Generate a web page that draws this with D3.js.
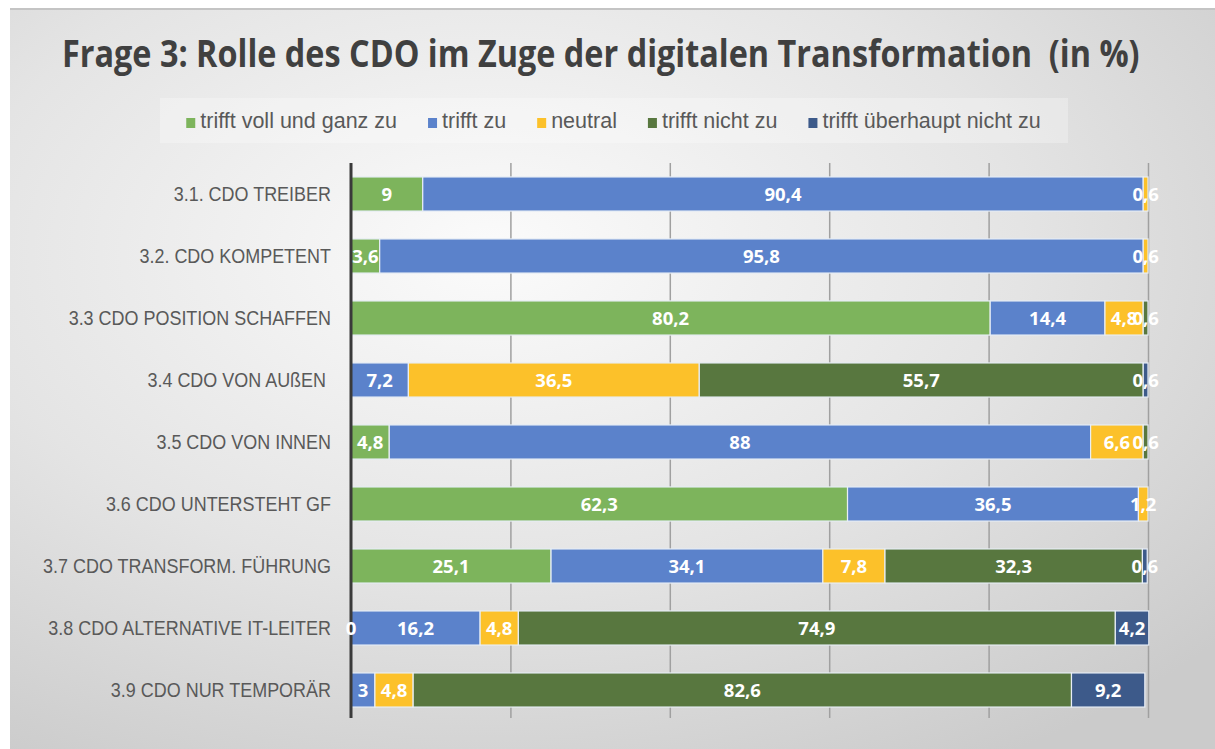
<!DOCTYPE html>
<html>
<head>
<meta charset="utf-8">
<script src="https://cdn.jsdelivr.net/npm/d3@7"></script>
<style>
  html, body { margin: 0; padding: 0; background: #ffffff; }
  svg { display: block; }
</style>
</head>
<body>
<svg id="chart" width="1215" height="749"></svg>
<script>
// ---------- DATA ----------
const titleText = "Frage 3: Rolle des CDO im Zuge der digitalen Transformation  (in %)";
const categories = [
  "3.1. CDO TREIBER",
  "3.2. CDO KOMPETENT",
  "3.3 CDO POSITION SCHAFFEN",
  "3.4 CDO VON AUßEN ",
  "3.5 CDO VON INNEN",
  "3.6 CDO UNTERSTEHT GF",
  "3.7 CDO TRANSFORM. FÜHRUNG",
  "3.8 CDO ALTERNATIVE IT-LEITER",
  "3.9 CDO NUR TEMPORÄR"
];
const seriesNames = ["trifft voll und ganz zu", "trifft zu", "neutral", "trifft nicht zu", "trifft überhaupt nicht zu"];
const trifftVollUndGanzZu = [9, 3.6, 80.2, null, 4.8, 62.3, 25.1, 0, null];
const trifftZu            = [90.4, 95.8, 14.4, 7.2, 88, 36.5, 34.1, 16.2, 3];
const neutral             = [0.6, 0.6, 4.8, 36.5, 6.6, 1.2, 7.8, 4.8, 4.8];
const trifftNichtZu       = [null, null, 0.6, 55.7, 0.6, null, 32.3, 74.9, 82.6];
const trifftUeberhauptNichtZu = [null, null, null, 0.6, null, null, 0.6, 4.2, 9.2];
const gridTicks = [20, 40, 60, 80, 100];
const seriesColors = ["#7db45c", "#5b82cb", "#fcc12a", "#58773f", "#3d5a8a"];

const seriesValues = [trifftVollUndGanzZu, trifftZu, neutral, trifftNichtZu, trifftUeberhauptNichtZu];
const rows = categories.map((c, i) => {
  const r = { cat: c };
  seriesNames.forEach((s, k) => { r[s] = seriesValues[k][i]; });
  return r;
});

// ---------- SETUP ----------
const svg = d3.select("#chart");
const W = 1215, H = 749;
const defs = svg.append("defs");
const grad = defs.append("radialGradient").attr("id", "bg")
  .attr("cx", "40%").attr("cy", "33%").attr("r", "80%");
grad.append("stop").attr("offset", "0%").attr("stop-color", "#fbfbfb");
grad.append("stop").attr("offset", "55%").attr("stop-color", "#e4e4e4");
grad.append("stop").attr("offset", "100%").attr("stop-color", "#cbcbcb");

svg.append("rect").attr("x", 0).attr("y", 0).attr("width", W).attr("height", H).attr("fill", "#ffffff");
svg.append("rect").attr("x", 10).attr("y", 8).attr("width", W - 10).attr("height", H - 8).attr("fill", "url(#bg)");
svg.append("rect").attr("x", 10).attr("y", 8).attr("width", W - 10).attr("height", 2).attr("fill", "#c4c4c4");

const labelFont = "'Liberation Sans', sans-serif";

// Title (condensed horizontally to the reference width)
const titleG = svg.append("g");
const title = titleG.append("text")
  .attr("x", 0).attr("y", 0)
  .style("white-space", "pre")
  .attr("font-family", "'Open Sans', sans-serif")
  .attr("font-weight", "bold")
  .attr("font-size", 37)
  .attr("fill", "#404040")
  .text(titleText);
const tw = title.node().getComputedTextLength();
titleG.attr("transform", `translate(62,67) scale(${1078 / tw},1)`);

// ---------- SCALES ----------
const x = d3.scaleLinear().domain([0, 100]).range([351, 1148]);
const y = d3.scaleBand().domain(categories).range([163, 721]).paddingInner(0.45).paddingOuter(0.225);

// Gridlines
const gridG = svg.append("g").attr("transform", "translate(0,718)")
  .call(d3.axisBottom(x).tickValues(gridTicks).tickSize(-555).tickFormat(""));
gridG.select(".domain").remove();
gridG.selectAll(".tick line").attr("stroke", "#a0a0a0").attr("stroke-width", 1.5);

// Stack
const stack = d3.stack().keys(seriesNames).value((d, k) => d[k] == null ? 0 : d[k]);
const layers = stack(rows);

const layerG = svg.append("g").selectAll("g").data(layers).join("g")
  .attr("fill", (d, i) => seriesColors[i]);
layerG.selectAll("rect")
  .data(d => d.map(p => ({ p, key: d.key })).filter(o => o.p.data[o.key] != null && o.p.data[o.key] > 0))
  .join("rect")
  .attr("x", o => x(o.p[0]))
  .attr("y", o => y(o.p.data.cat))
  .attr("width", o => x(o.p[1]) - x(o.p[0]))
  .attr("height", y.bandwidth())
  .attr("stroke", "#e8eef6")
  .attr("stroke-width", 1.2);

// Y axis line
svg.append("line").attr("x1", 351).attr("x2", 351).attr("y1", 163).attr("y2", 718)
  .attr("stroke", "#3a3a3a").attr("stroke-width", 3);

// Category labels
const yAxisG = svg.append("g").attr("transform", "translate(351,0)")
  .call(d3.axisLeft(y).tickSize(0).tickPadding(20));
yAxisG.select(".domain").remove();
const catTexts = yAxisG.selectAll("text")
  .style("white-space", "pre")
  .attr("font-family", labelFont)
  .attr("font-size", 20.5)
  .attr("fill", "#595959");
let maxW = 0;
catTexts.each(function () { maxW = Math.max(maxW, this.getComputedTextLength()); });
const sx = 288 / maxW;
catTexts.attr("x", 0).attr("transform", `translate(-20,0) scale(${sx},1)`);

// Data labels
const fmt = v => String(v).replace(".", ",");
const labelG = svg.append("g");
layers.forEach(layer => {
  layer.forEach(p => {
    const v = p.data[layer.key];
    if (v == null) return;
    labelG.append("text")
      .attr("x", (x(p[0]) + x(p[1])) / 2)
      .attr("y", y(p.data.cat) + y.bandwidth() / 2)
      .attr("dy", "0.36em")
      .attr("text-anchor", "middle")
      .attr("font-family", "'Open Sans', sans-serif")
      .attr("font-weight", "bold")
      .attr("font-size", 18.5)
      .attr("fill", "#ffffff")
      .text(fmt(v));
  });
});

// Legend
const legend = svg.append("g");
legend.append("rect").attr("x", 160).attr("y", 98).attr("width", 908).attr("height", 45)
  .attr("fill", "#ffffff").attr("opacity", 0.28);
const items = legend.selectAll("g.item").data(seriesNames).join("g").attr("class", "item");
items.append("rect").attr("width", 9).attr("height", 10).attr("y", -10)
  .attr("fill", (d, i) => seriesColors[i]);
items.append("text").attr("x", 14).attr("y", 0)
  .attr("font-family", labelFont).attr("font-size", 21.5).attr("fill", "#595959")
  .text(d => d);
let widths = [];
items.each(function () { widths.push(d3.select(this).select("text").node().getComputedTextLength()); });
const gap = 31;
const total = widths.reduce((a, w) => a + 14 + w, 0) + gap * (widths.length - 1);
let cx = 613.5 - total / 2;
items.each(function (d, i) {
  d3.select(this).attr("transform", `translate(${cx},128)`);
  cx += 14 + widths[i] + gap;
});
</script>
</body>
</html>
